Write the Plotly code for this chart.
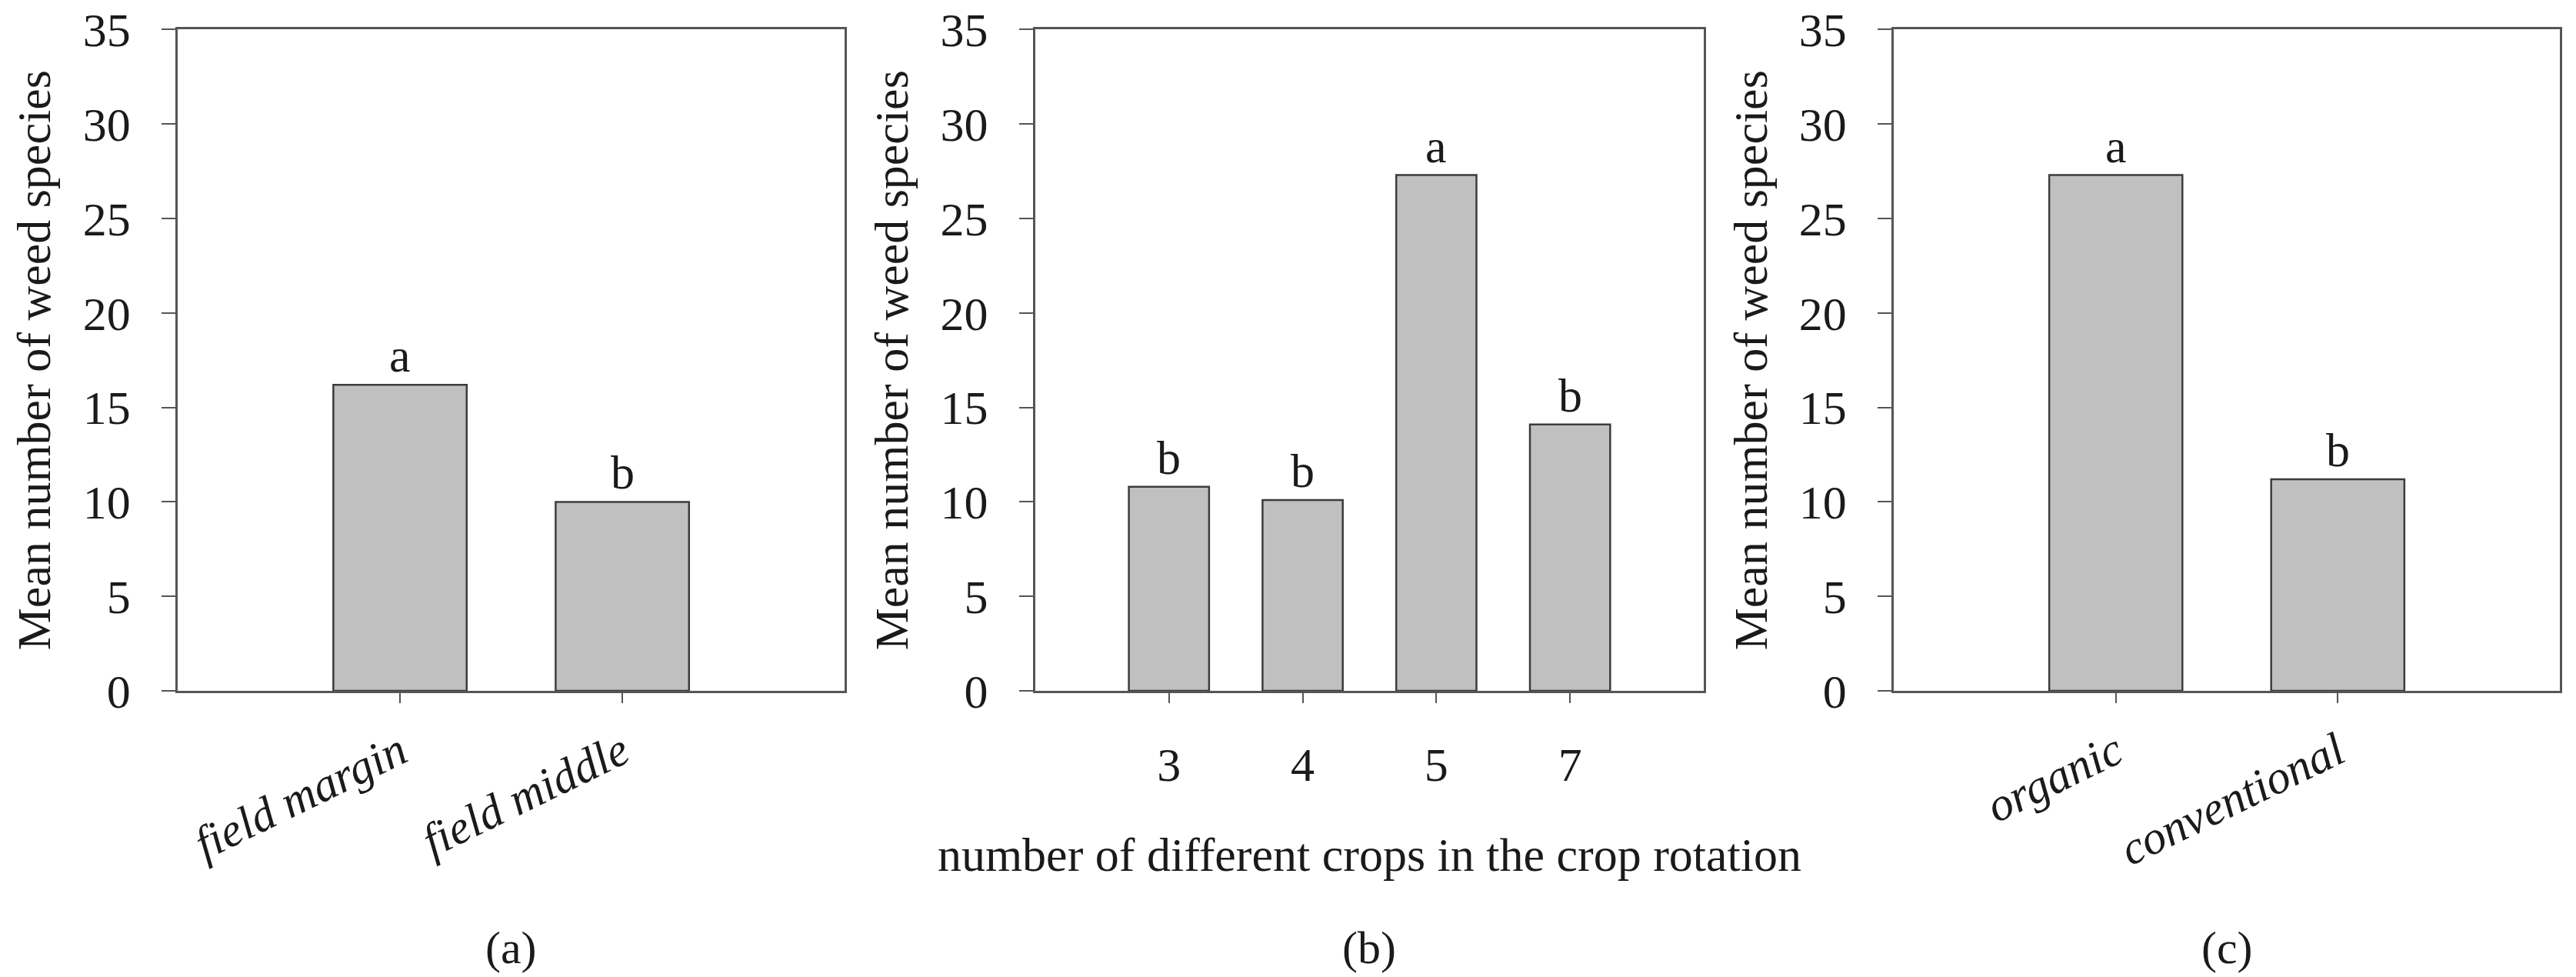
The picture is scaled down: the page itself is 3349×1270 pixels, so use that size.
import plotly.graph_objects as go
from plotly.subplots import make_subplots

FONT = "Liberation Serif"
INK = "#1a1a1a"
FRAME = "#555555"

# (a) sampling position in the field
position = ["field margin", "field middle"]
position_mean = [16.2, 10.0]
position_letters = ["a", "b"]

# (b) number of different crops in the rotation
rotation = ["3", "4", "5", "7"]
rotation_mean = [10.8, 10.1, 27.3, 14.1]
rotation_letters = ["b", "b", "a", "b"]

# (c) farming system
farming = ["organic", "conventional"]
farming_mean = [27.3, 11.2]
farming_letters = ["a", "b"]

y_ticks = [0, 5, 10, 15, 20, 25, 30, 35]
panel_tags = ["(a)", "(b)", "(c)"]
y_title = "Mean number of weed species"
x_title_b = "number of different crops in the crop rotation"

panels = [
    (position, position_mean, position_letters, True),
    (rotation, rotation_mean, rotation_letters, False),
    (farming, farming_mean, farming_letters, True),
]

# plot-area positions in paper fractions (page body adds an 8px offset)
x_domains = [[0.0666, 0.3255], [0.3995, 0.6590], [0.7328, 0.9913]]
y_domain = [0.2992, 0.9760]

fig = make_subplots(rows=1, cols=3)

for i, (cats, vals, letters, italic) in enumerate(panels):
    col = i + 1
    suffix = "" if col == 1 else str(col)
    fig.add_trace(
        go.Bar(
            x=cats,
            y=vals,
            width=0.6,
            marker=dict(color="#c0c0c0", line=dict(color="#3c3c3c", width=2.5)),
            showlegend=False,
        ),
        row=1, col=col,
    )
    # significance letters, placed by category index
    for j, (v, t) in enumerate(zip(vals, letters)):
        fig.add_annotation(
            x=j, y=v, text=t, showarrow=False,
            xref="x" + suffix, yref="y" + suffix,
            yanchor="bottom", yshift=2,
            font=dict(family=FONT, size=62, color=INK),
        )
    fig.update_xaxes(
        type="category",
        categoryorder="array", categoryarray=cats,
        range=[-1, len(cats)],
        domain=x_domains[i],
        automargin=False,
        showline=True, linecolor=FRAME, linewidth=3, mirror=True,
        ticks="outside", ticklen=13, tickwidth=2, tickcolor=FRAME,
        tickangle=-26 if italic else 0,
        tickfont=dict(family=FONT, size=61 if italic else 62, color=INK,
                      style="italic" if italic else "normal"),
        ticklabelstandoff=4 if italic else 27,
        ticklabeloverflow="allow",
        showgrid=False, zeroline=False,
        row=1, col=col,
    )
    fig.update_yaxes(
        range=[0, 35],
        tickvals=y_ticks,
        domain=y_domain,
        automargin=False,
        showline=True, linecolor=FRAME, linewidth=3, mirror=True,
        ticks="outside", ticklen=18, tickwidth=2, tickcolor=FRAME,
        tickfont=dict(family=FONT, size=62, color=INK),
        ticklabelstandoff=28,
        ticklabeloverflow="allow",
        title=dict(text=y_title, font=dict(family=FONT, size=62, color=INK), standoff=22),
        showgrid=False, zeroline=False,
        row=1, col=col,
    )
    fig.add_annotation(
        x=sum(x_domains[i]) / 2, y=0.036, xref="paper", yref="paper",
        text=panel_tags[i], showarrow=False,
        xanchor="center", yanchor="middle",
        font=dict(family=FONT, size=60, color=INK),
    )

fig.update_xaxes(
    title=dict(text=x_title_b, font=dict(family=FONT, size=62, color=INK), standoff=62),
    row=1, col=2,
)

fig.update_layout(
    width=3349, height=1270,
    margin=dict(l=0, r=0, t=0, b=0, autoexpand=False),
    paper_bgcolor="white", plot_bgcolor="white",
    bargap=0.4,
)

fig.write_html("out.html")
